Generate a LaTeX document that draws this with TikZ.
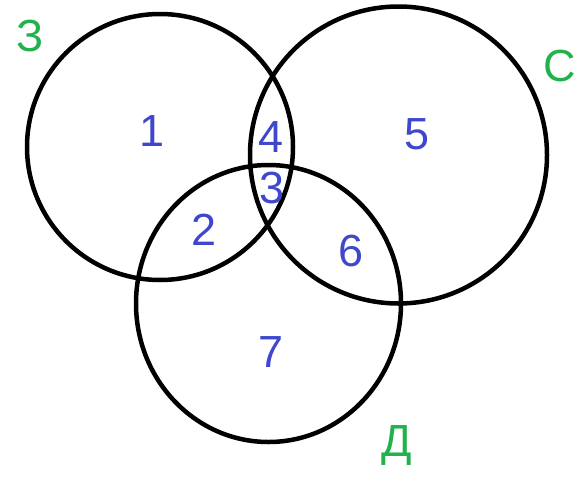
\documentclass[tikz,border=0pt]{standalone}
\usepackage{fontspec}
\setmainfont{Liberation Sans}
\usepackage{xcolor}
\definecolor{setgreen}{RGB}{34,178,76}
\definecolor{areablue}{RGB}{63,72,204}

\begin{document}
\begin{tikzpicture}[x=1pt,y=-1pt,
    setname/.style={text=setgreen,font=\fontsize{45}{54}\selectfont,inner sep=0pt},
    areanum/.style={text=areablue,font=\fontsize{45}{54}\selectfont,inner sep=0pt}]
  \useasboundingbox (0,0) rectangle (586,477);
  \draw[line width=4.5pt] (160,147) circle (133);
  \draw[line width=4.5pt] (398.5,155) circle (148.5);
  \draw[line width=4.5pt] (268.5,303.5) ellipse (132.5 and 138.5);
  \node[setname] (z) at (30,36) {З};
  \node[setname] (s) at (560,66) {С};
  \node[setname] (d) at (397,445) {Д};
  \foreach \n/\x/\y in {1/152/131,2/204/230,3/272/188,4/271/137,5/417/134,6/351/251,7/271/352}
    \node[areanum] (a\n) at (\x,\y) {\n};
\end{tikzpicture}
\end{document}
